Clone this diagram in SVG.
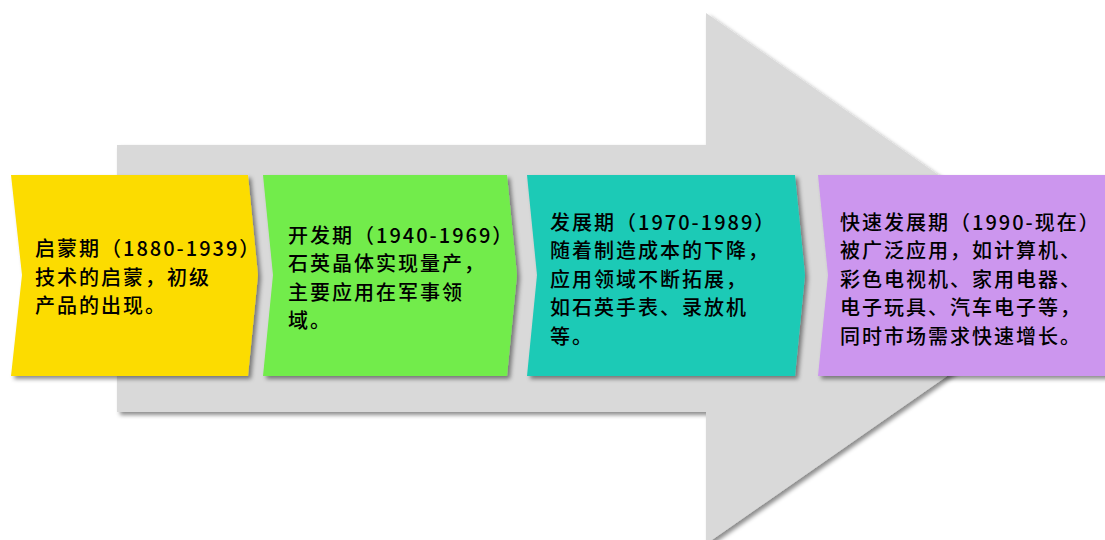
<svg xmlns="http://www.w3.org/2000/svg" width="1105" height="540" viewBox="0 0 1105 540">
  <defs>
    <filter id="sh" x="-10%" y="-10%" width="130%" height="130%">
      <feDropShadow dx="3" dy="3" stdDeviation="2" flood-color="#000" flood-opacity="0.45"/>
    </filter>
    <style>
      .t { font-family: "Noto Sans CJK SC", "Noto Sans", sans-serif; font-size: 20px; font-weight: 500; fill: #000; letter-spacing: 2px; }
      .box { filter: url(#sh); }
    </style>
  </defs>
  <rect width="1105" height="540" fill="#FFFFFF"/>
  <g id="big-arrow">
    <path d="M117,145 L706,145 L706,13 L1087,278.5 L706,544 L706,412 L117,412 Z" fill="#D9D9D9" filter="url(#sh)"/>
  </g>
  <g id="connectors"></g>
  <g id="stage1">
    <path class="box" d="M11,175 L248,175 L258,275 L248,376 L11,376 L22,275 Z" fill="#FCDC05"/>
    <text class="t" x="35" y="256">启蒙期（1880-1939）</text>
    <text class="t" x="35" y="284.5">技术的启蒙，初级</text>
    <text class="t" x="35" y="313">产品的出现。</text>
  </g>
  <g id="stage2">
    <path class="box" d="M263,175 L507,175 L517,275 L507,376 L263,376 L273,275 Z" fill="#72EC4B"/>
    <text class="t" x="288" y="242.5">开发期（1940-1969）</text>
    <text class="t" x="288" y="271">石英晶体实现量产，</text>
    <text class="t" x="288" y="299.5">主要应用在军事领</text>
    <text class="t" x="288" y="328">域。</text>
  </g>
  <g id="stage3">
    <path class="box" d="M527,175 L795,175 L805,275 L795,376 L527,376 L537,275 Z" fill="#1DCAB6"/>
    <text class="t" x="550" y="229.5">发展期（1970-1989）</text>
    <text class="t" x="550" y="258">随着制造成本的下降，</text>
    <text class="t" x="550" y="286.5">应用领域不断拓展，</text>
    <text class="t" x="550" y="315">如石英手表、录放机</text>
    <text class="t" x="550" y="343.5">等。</text>
  </g>
  <g id="stage4">
    <path class="box" d="M818,175 L1115,175 L1115,376 L818,376 L828,275 Z" fill="#CC96EE"/>
    <text class="t" x="840" y="229.5">快速发展期（1990-现在）</text>
    <text class="t" x="840" y="258">被广泛应用，如计算机、</text>
    <text class="t" x="840" y="286.5">彩色电视机、家用电器、</text>
    <text class="t" x="840" y="315">电子玩具、汽车电子等，</text>
    <text class="t" x="840" y="343.5">同时市场需求快速增长。</text>
  </g>
</svg>
